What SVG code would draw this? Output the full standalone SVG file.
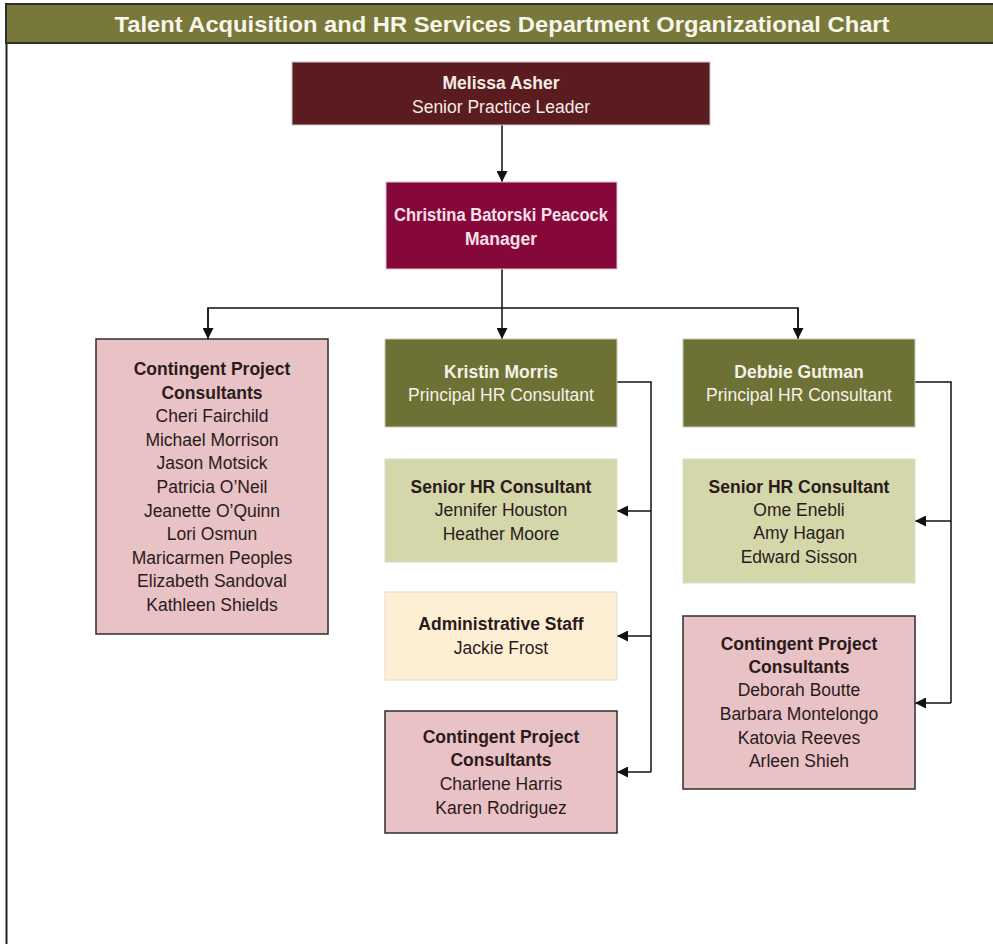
<svg xmlns="http://www.w3.org/2000/svg" width="993" height="944" viewBox="0 0 993 944">
<style>
.t{font-family:"Liberation Sans",Arial,sans-serif;font-size:17.5px;text-anchor:middle}
.b{font-weight:bold}
.dk{fill:#2b1a1c}
.lt{fill:#f4f2e6}
.pk{fill:#e8c2c4;stroke:#2e2e2e;stroke-width:1.5}
.ol{fill:#6e7135;stroke:#c9c9b8;stroke-width:1}
.lo{fill:#d3d7a9;stroke:#dcdccc;stroke-width:1}
.cr{fill:#fcefd3;stroke:#dcdccc;stroke-width:1}
.ln{fill:none;stroke:#111;stroke-width:1.5}
</style>
<defs>
<marker id="ah" viewBox="0 0 10 10" refX="10" refY="5" markerWidth="11" markerHeight="11" markerUnits="userSpaceOnUse" orient="auto">
<path d="M0,0 L10,5 L0,10 z" fill="#111"/>
</marker>
</defs>
<rect width="993" height="944" fill="#ffffff"/>
<g id="frame">
<line x1="6.5" y1="42" x2="6.5" y2="944" stroke="#222" stroke-width="2"/>
<rect x="6" y="4" width="992" height="39" fill="#77783a" stroke="#2e2e2e" stroke-width="2"/>
<text x="502" y="32" textLength="775" lengthAdjust="spacingAndGlyphs" style="font-family:'Liberation Sans',Arial,sans-serif;font-size:22px;font-weight:bold;text-anchor:middle" fill="#f7f6ea">Talent Acquisition and HR Services Department Organizational Chart</text>
</g>
<g id="connectors">
<line class="ln" x1="502" y1="125" x2="502" y2="182" marker-end="url(#ah)"/>
<line class="ln" x1="502" y1="269" x2="502" y2="308"/>
<polyline class="ln" points="208,339 208,308 798,308 798,339"/>
<line class="ln" x1="208" y1="308" x2="208" y2="339" marker-end="url(#ah)"/>
<line class="ln" x1="502" y1="308" x2="502" y2="339" marker-end="url(#ah)"/>
<line class="ln" x1="798" y1="308" x2="798" y2="339" marker-end="url(#ah)"/>
<polyline class="ln" points="617,382 651,382 651,772"/>
<line class="ln" x1="651" y1="511" x2="617" y2="511" marker-end="url(#ah)"/>
<line class="ln" x1="651" y1="636" x2="617" y2="636" marker-end="url(#ah)"/>
<line class="ln" x1="651" y1="772" x2="617" y2="772" marker-end="url(#ah)"/>
<polyline class="ln" points="915,382 951,382 951,703"/>
<line class="ln" x1="951" y1="521" x2="915" y2="521" marker-end="url(#ah)"/>
<line class="ln" x1="951" y1="703" x2="915" y2="703" marker-end="url(#ah)"/>
</g>
<g id="melissa">
<rect x="292" y="62" width="418" height="63" fill="#5b1c1f" stroke="#cfc6c6" stroke-width="1"/>
<text class="t b" x="501" y="89" fill="#f6ece6">Melissa Asher</text>
<text class="t" x="501" y="113" fill="#f6ece6">Senior Practice Leader</text>
</g>
<g id="christina">
<rect x="386" y="182" width="231" height="87" fill="#86083a" stroke="#d9c6cc" stroke-width="1"/>
<text class="t b" x="501" y="221" textLength="214" lengthAdjust="spacingAndGlyphs" fill="#f8e0e8">Christina Batorski Peacock</text>
<text class="t b" x="501" y="245" fill="#f8e0e8">Manager</text>
</g>
<g id="contingent-left">
<rect class="pk" x="96" y="339" width="232" height="295"/>
<text class="t b dk" x="212" y="375">Contingent Project</text>
<text class="t b dk" x="212" y="399">Consultants</text>
<text class="t dk" x="212" y="422">Cheri Fairchild</text>
<text class="t dk" x="212" y="446">Michael Morrison</text>
<text class="t dk" x="212" y="469">Jason Motsick</text>
<text class="t dk" x="212" y="493">Patricia O’Neil</text>
<text class="t dk" x="212" y="517">Jeanette O’Quinn</text>
<text class="t dk" x="212" y="540">Lori Osmun</text>
<text class="t dk" x="212" y="564">Maricarmen Peoples</text>
<text class="t dk" x="212" y="587">Elizabeth Sandoval</text>
<text class="t dk" x="212" y="611">Kathleen Shields</text>
</g>
<g id="kristin">
<rect class="ol" x="385" y="339" width="232" height="88"/>
<text class="t b lt" x="501" y="378">Kristin Morris</text>
<text class="t lt" x="501" y="401">Principal HR Consultant</text>
</g>
<g id="senior-kristin">
<rect class="lo" x="385" y="459" width="232" height="103"/>
<text class="t b dk" x="501" y="493">Senior HR Consultant</text>
<text class="t dk" x="501" y="516">Jennifer Houston</text>
<text class="t dk" x="501" y="540">Heather Moore</text>
</g>
<g id="admin-kristin">
<rect class="cr" x="385" y="592" width="232" height="88"/>
<text class="t b dk" x="501" y="630">Administrative Staff</text>
<text class="t dk" x="501" y="654">Jackie Frost</text>
</g>
<g id="contingent-kristin">
<rect class="pk" x="385" y="711" width="232" height="122"/>
<text class="t b dk" x="501" y="743">Contingent Project</text>
<text class="t b dk" x="501" y="766">Consultants</text>
<text class="t dk" x="501" y="790">Charlene Harris</text>
<text class="t dk" x="501" y="814">Karen Rodriguez</text>
</g>
<g id="debbie">
<rect class="ol" x="683" y="339" width="232" height="88"/>
<text class="t b lt" x="799" y="378">Debbie Gutman</text>
<text class="t lt" x="799" y="401">Principal HR Consultant</text>
</g>
<g id="senior-debbie">
<rect class="lo" x="683" y="459" width="232" height="124"/>
<text class="t b dk" x="799" y="493">Senior HR Consultant</text>
<text class="t dk" x="799" y="516">Ome Enebli</text>
<text class="t dk" x="799" y="539">Amy Hagan</text>
<text class="t dk" x="799" y="563">Edward Sisson</text>
</g>
<g id="contingent-debbie">
<rect class="pk" x="683" y="616" width="232" height="173"/>
<text class="t b dk" x="799" y="650">Contingent Project</text>
<text class="t b dk" x="799" y="673">Consultants</text>
<text class="t dk" x="799" y="696">Deborah Boutte</text>
<text class="t dk" x="799" y="720">Barbara Montelongo</text>
<text class="t dk" x="799" y="744">Katovia Reeves</text>
<text class="t dk" x="799" y="767">Arleen Shieh</text>
</g>
</svg>
